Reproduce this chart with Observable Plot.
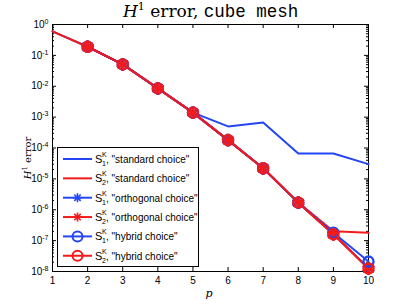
<!DOCTYPE html>
<html><head><meta charset="utf-8">
<script src="https://cdn.jsdelivr.net/npm/d3@7"></script>
<script src="https://cdn.jsdelivr.net/npm/@observablehq/plot@0.6"></script>
<style>body{margin:0;background:#fff}svg{display:block}</style>
</head><body><div id="chart"></div>
<script>
// ---- data ----
const pValues = [1, 2, 3, 4, 5, 6, 7, 8, 9, 10];
const s1Standard   = [0.6, 0.19, 0.051, 0.0085, 0.0014, 5.0e-4, 6.7e-4, 6.6e-5, 6.6e-5, 3.0e-5];
const s2Standard   = [0.6, 0.19, 0.051, 0.0085, 0.0014, 1.8e-4, 2.2e-5, 1.7e-6, 2.0e-7, 1.8e-7];
const s1Orthogonal = [null, 0.19, 0.051, 0.0085, 0.0014, 1.8e-4, 2.2e-5, 1.7e-6, 1.65e-7, 1.25e-8];
const s2Orthogonal = [null, 0.19, 0.051, 0.0085, 0.0014, 1.8e-4, 2.2e-5, 1.7e-6, 1.6e-7, 1.25e-8];
const s1Hybrid     = [null, 0.19, 0.051, 0.0085, 0.0014, 1.8e-4, 2.2e-5, 1.7e-6, 1.8e-7, 2.1e-8];
const s2Hybrid     = [null, 0.19, 0.051, 0.0085, 0.0014, 1.8e-4, 2.2e-5, 1.7e-6, 1.6e-7, 1.25e-8];
const xTicks = [1, 2, 3, 4, 5, 6, 7, 8, 9, 10];
const yExponents = [0, -1, -2, -3, -4, -5, -6, -7, -8];
const seriesNames = ['"standard choice"', '"standard choice"', '"orthogonal choice"', '"orthogonal choice"', '"hybrid choice"', '"hybrid choice"'];
const seriesSub = ["1", "2", "1", "2", "1", "2"];

const BLUE = "#2446f5", RED = "#f21a1a";
const series = [
  {values: s1Standard, color: BLUE, symbol: null},
  {values: s2Standard, color: RED, symbol: null},
  {values: s1Orthogonal, color: BLUE, symbol: "asterisk"},
  {values: s2Orthogonal, color: RED, symbol: "asterisk"},
  {values: s1Hybrid, color: BLUE, symbol: "circle"},
  {values: s2Hybrid, color: RED, symbol: "circle"}
].map((s, i) => ({...s, name: seriesNames[i], sub: seriesSub[i],
  rows: pValues.map((p, j) => ({p, v: s.values[j]})).filter(d => d.v != null)}));

const yMajor = yExponents.map(e => Math.pow(10, e));
const yMinor = [];
for (let e = -8; e < 0; e++) for (let k = 2; k <= 9; k++) yMinor.push(k * Math.pow(10, e));

const W = 407, H = 306, mt = 24, mr = 39, mb = 35, ml = 52;
const fw = W - ml - mr, fh = H - mt - mb;

const marks = [
  Plot.frame({stroke: "#000", strokeWidth: 1}),
  Plot.ruleX(xTicks, {x: d => d, insetTop: fh - 4, stroke: "#000"}),
  Plot.ruleX(xTicks, {x: d => d, insetBottom: fh - 4, stroke: "#000"}),
  Plot.ruleY(yMajor, {y: d => d, insetRight: fw - 4, stroke: "#000"}),
  Plot.ruleY(yMajor, {y: d => d, insetLeft: fw - 4, stroke: "#000"}),
  Plot.ruleY(yMinor, {y: d => d, insetRight: fw - 2, stroke: "#000"}),
  Plot.ruleY(yMinor, {y: d => d, insetLeft: fw - 2, stroke: "#000"}),
  Plot.axisX({ticks: xTicks, tickSize: 0, tickPadding: 5, fontSize: 10, label: null, tickFormat: d => String(d)}),
  Plot.axisY({ticks: yMajor, tickSize: 0, tickPadding: 4, fontSize: 10, label: null, tickFormat: d => String(Math.round(Math.log10(d)))})
];
for (const s of series) {
  marks.push(Plot.line(s.rows, {x: "p", y: "v", stroke: s.color, strokeWidth: 2}));
}
for (const s of series) {
  if (s.symbol === "asterisk") marks.push(Plot.dot(s.rows, {x: "p", y: "v", symbol: "asterisk", r: 6, stroke: s.color, strokeWidth: 3}));
  if (s.symbol === "circle") marks.push(Plot.dot(s.rows, {x: "p", y: "v", symbol: "circle", r: 5, stroke: s.color, strokeWidth: 2.4, fill: "none"}));
}

const svgEl = Plot.plot({
  width: W, height: H, marginTop: mt, marginRight: mr, marginBottom: mb, marginLeft: ml,
  style: {fontFamily: "'Liberation Sans', Arial, sans-serif", color: "#000", background: "#fff"},
  x: {domain: [1, 10]},
  y: {type: "log", domain: [1e-8, 1]},
  marks
});
document.getElementById("chart").appendChild(svgEl);

const svg = d3.select(svgEl);
// superscript exponents on y tick labels
svg.selectAll('g[aria-label="y-axis tick label"] text').each(function() {
  const t = d3.select(this);
  const e = t.text();
  t.text("10");
  t.append("tspan").attr("dy", "-0.55em").attr("font-size", 7).text(e);
});

// title
const title = svg.append("text").attr("x", 123).attr("y", 17).attr("text-anchor", "start").attr("fill", "#000");
title.append("tspan").attr("font-family", "'DejaVu Serif', serif").attr("font-style", "italic").attr("font-size", 17).text("H");
title.append("tspan").attr("font-family", "'DejaVu Serif', serif").attr("font-size", 11).attr("dy", -7).text("1");
title.append("tspan").attr("font-family", "'DejaVu Serif', serif").attr("font-size", 17).attr("dy", 7).text("\u00a0error,\u00a0");
title.append("tspan").attr("font-family", "'Liberation Mono', monospace").attr("font-size", 17.5).text("cube\u00a0mesh");

// axis labels
svg.append("text").attr("x", 209).attr("y", 297).attr("text-anchor", "middle")
  .attr("font-family", "'DejaVu Serif', serif").attr("font-style", "italic").attr("font-size", 11).text("p");
const yl = svg.append("text").attr("transform", "translate(31,158) rotate(-90)").attr("text-anchor", "middle")
  .attr("font-family", "'DejaVu Serif', serif").attr("font-size", 10);
yl.append("tspan").attr("font-style", "italic").text("H");
yl.append("tspan").attr("font-size", 7).attr("dy", -4).text("1");
yl.append("tspan").attr("dy", 4).text("\u00a0error");

// legend
const lg = svg.append("g").attr("font-family", "'Liberation Sans', Arial, sans-serif").attr("text-anchor", "start");
lg.append("rect").attr("x", 57.5).attr("y", 147.5).attr("width", 141).attr("height", 119)
  .attr("fill", "#fff").attr("stroke", "#000").attr("stroke-width", 1);
series.forEach((s, i) => {
  const y = 159 + i * 19.35;
  lg.append("line").attr("x1", 63).attr("x2", 92).attr("y1", y).attr("y2", y).attr("stroke", s.color).attr("stroke-width", 2);
  if (s.symbol === "circle") {
    lg.append("circle").attr("cx", 77.5).attr("cy", y).attr("r", 5).attr("fill", "none").attr("stroke", s.color).attr("stroke-width", 2);
  } else if (s.symbol === "asterisk") {
    for (const a of [0, 45, 90, 135]) {
      const r = a * Math.PI / 180, d = 4.5;
      lg.append("line").attr("x1", 77.5 - d * Math.cos(r)).attr("x2", 77.5 + d * Math.cos(r))
        .attr("y1", y - d * Math.sin(r)).attr("y2", y + d * Math.sin(r)).attr("stroke", s.color).attr("stroke-width", 1.6);
    }
  }
  lg.append("text").attr("x", 95).attr("y", y + 4).attr("font-size", 11).text("S");
  lg.append("text").attr("x", 102).attr("y", y - 2).attr("font-size", 7).text("K");
  lg.append("text").attr("x", 102).attr("y", y + 7).attr("font-size", 7).text(s.sub);
  lg.append("text").attr("x", 106).attr("y", y + 4).attr("font-size", 10).text(", " + s.name);
});
</script>
</body></html>
